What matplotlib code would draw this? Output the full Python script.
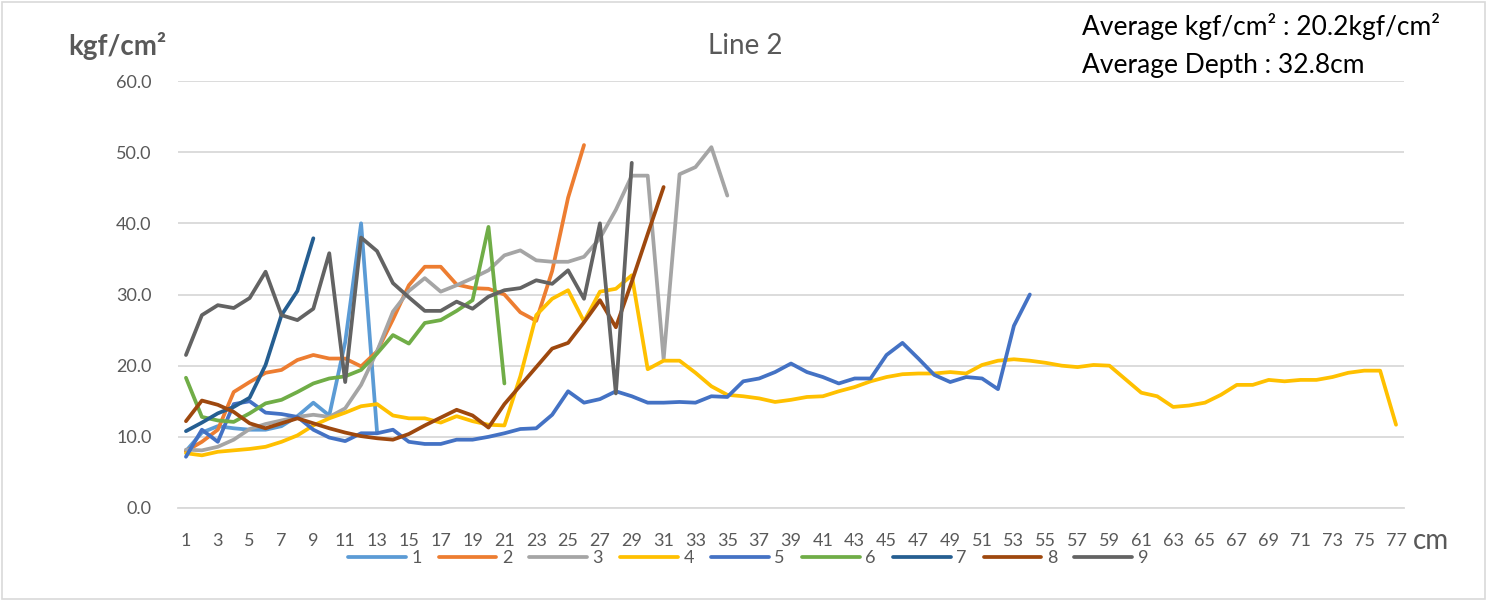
import numpy as np
import matplotlib
matplotlib.use("Agg")
import matplotlib.pyplot as plt

plt.rcParams["font.family"] = ["Lato", "DejaVu Sans"]

depth = list(range(1, 78))
names = ["1", "2", "3", "4", "5", "6", "7", "8", "9"]
colors = ["#5B9BD5", "#ED7D31", "#A5A5A5", "#FFC000", "#4472C4",
          "#70AD47", "#255E91", "#9E480E", "#636363"]

s1 = [8.0, 10.6, 11.5, 11.2, 11.0, 11.0, 11.5, 12.9, 14.8, 13.0, 23.3, 40.0, 10.7]
s2 = [8.0, 9.3, 11.0, 16.3, 17.7, 19.0, 19.4, 20.8, 21.5, 21.0, 21.0, 19.9, 22.0,
      26.5, 31.3, 33.9, 33.9, 31.4, 30.9, 30.8, 30.0, 27.5, 26.3, 33.3, 43.6, 51.0]
s3 = [8.2, 8.1, 8.6, 9.6, 11.1, 11.8, 12.3, 12.8, 13.1, 12.8, 14.0, 17.3, 22.0,
      27.6, 30.5, 32.3, 30.4, 31.3, 32.3, 33.4, 35.5, 36.2, 34.8, 34.6, 34.6,
      35.3, 37.9, 41.9, 46.7, 46.7, 20.9, 46.9, 47.9, 50.7, 43.9]
s4 = [7.7, 7.4, 7.9, 8.1, 8.3, 8.6, 9.3, 10.2, 11.6, 12.6,
      13.4, 14.3, 14.6, 13.0, 12.6, 12.6, 12.0, 12.9, 12.2, 11.7,
      11.6, 18.5, 27.1, 29.4, 30.6, 26.2, 30.4, 30.8, 32.7, 19.5,
      20.7, 20.7, 19.0, 17.1, 15.9, 15.7, 15.4, 14.9, 15.2, 15.6,
      15.7, 16.4, 17.0, 17.8, 18.4, 18.8, 18.9, 18.9, 19.1, 18.9,
      20.1, 20.7, 20.9, 20.7, 20.4, 20.0, 19.8, 20.1, 20.0, 18.1,
      16.2, 15.7, 14.2, 14.4, 14.8, 15.9, 17.3, 17.3, 18.0, 17.8,
      18.0, 18.0, 18.4, 19.0, 19.3, 19.3, 11.7]
s5 = [7.2, 11.0, 9.3, 14.6, 15.0, 13.4, 13.2, 12.8, 11.0, 9.9,
      9.4, 10.5, 10.5, 11.0, 9.3, 9.0, 9.0, 9.6, 9.6, 10.0,
      10.5, 11.1, 11.2, 13.1, 16.4, 14.8, 15.3, 16.4, 15.7, 14.8,
      14.8, 14.9, 14.8, 15.7, 15.6, 17.8, 18.2, 19.1, 20.3, 19.1,
      18.4, 17.5, 18.2, 18.2, 21.5, 23.2, 21.0, 18.7, 17.7, 18.4,
      18.2, 16.7, 25.6, 30.0]
s6 = [18.3, 12.8, 12.3, 12.1, 13.3, 14.7, 15.2, 16.3, 17.5, 18.2, 18.5, 19.4,
      21.7, 24.3, 23.1, 26.0, 26.4, 27.7, 29.2, 39.5, 17.5]
s7 = [10.8, 12.0, 13.3, 14.2, 15.5, 20.1, 27.1, 30.5, 37.9]
s8 = [12.2, 15.1, 14.5, 13.5, 11.9, 11.2, 11.9, 12.6, 11.9, 11.2,
      10.6, 10.1, 9.8, 9.6, 10.4, 11.6, 12.7, 13.8, 13.0, 11.3,
      14.6, 17.2, 19.8, 22.4, 23.2, 26.1, 29.2, 25.4, 31.8, 38.5, 45.1]
s9 = [21.5, 27.1, 28.5, 28.1, 29.5, 33.2, 27.1, 26.4, 28.0, 35.8,
      17.7, 38.0, 36.1, 31.6, 29.6, 27.7, 27.7, 29.0, 28.0, 29.7,
      30.6, 30.9, 32.0, 31.5, 33.4, 29.4, 40.0, 16.1, 48.5]
series = [s1, s2, s3, s4, s5, s6, s7, s8, s9]

yticks = [0, 10, 20, 30, 40, 50, 60]

fig = plt.figure(figsize=(14.87, 6.01), dpi=100)
ax = fig.add_axes([178 / 1487, 93 / 601, 1226 / 1487, 427 / 601])

for name, col, vals in zip(names, colors, series):
    ax.plot(depth[:len(vals)], vals, color=col, lw=2.7, label=name,
            solid_joinstyle="round", solid_capstyle="round")

ax.set_xlim(0.5, 77.5)
ax.set_ylim(0, 60)
ax.set_yticks(yticks)
ax.set_yticklabels([f"{v:.1f}" for v in yticks])
ax.set_xticks(depth[::2])
ax.set_xticklabels([str(d) for d in depth[::2]])
ax.tick_params(axis="both", length=0, labelsize=13, colors="#595959")
ax.tick_params(axis="x", pad=18)
ax.tick_params(axis="y", pad=19)
ax.grid(axis="y", color="#D9D9D9", lw=1.3)
ax.set_axisbelow(True)
for sp in ["top", "right", "left"]:
    ax.spines[sp].set_visible(False)
ax.spines["bottom"].set_color("#D9D9D9")
ax.spines["bottom"].set_linewidth(1.3)

fig.text(68 / 1487, 1 - 46 / 601, "kgf/cm²", fontsize=20, fontweight="bold",
         color="#595959", va="center", ha="left")
fig.text(745 / 1487, 1 - 46 / 601, "Line 2", fontsize=20, color="#595959",
         va="center", ha="center")
fig.text(1082 / 1487, 1 - 27 / 601, "Average kgf/cm² : 20.2kgf/cm²", fontsize=19,
         color="black", va="center", ha="left")
fig.text(1082 / 1487, 1 - 66 / 601, "Average Depth : 32.8cm", fontsize=19,
         color="black", va="center", ha="left")
fig.text(1413 / 1487, 1 - 541 / 601, "cm", fontsize=20, color="#595959",
         va="center", ha="left")

leg = fig.legend(loc="center", bbox_to_anchor=(748 / 1487, 1 - 558 / 601), ncol=9,
                 frameon=False, fontsize=13, handlelength=3.2, handletextpad=0.3,
                 columnspacing=0.95)
for t in leg.get_texts():
    t.set_color("#595959")

fig.patches.append(plt.Rectangle((2 / 1487, 2 / 601), 1483 / 1487, 597 / 601,
                                 transform=fig.transFigure, fill=False,
                                 edgecolor="#D9D9D9", lw=1.2))

fig.savefig("out.png", dpi=100)
